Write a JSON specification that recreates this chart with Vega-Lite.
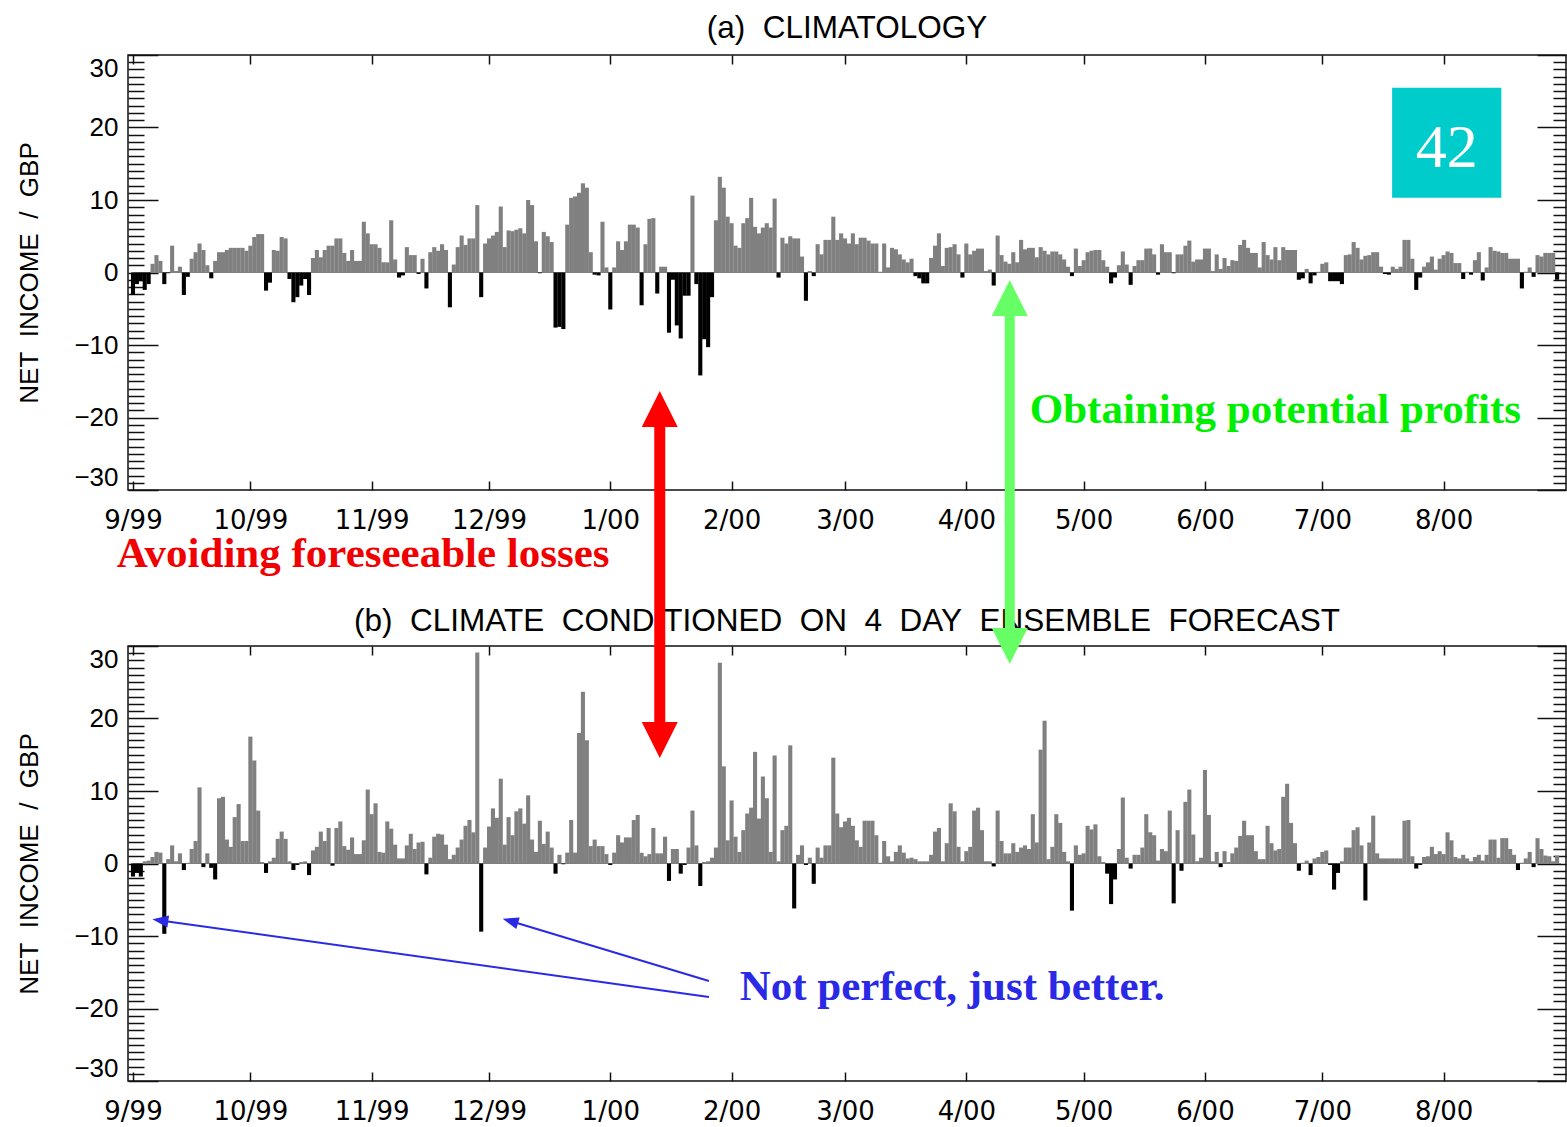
{
  "$schema": "https://vega.github.io/schema/vega-lite/v6.json",
  "background": "white",
  "padding": {"left": 15, "top": 11, "right": 2, "bottom": 2},
  "autosize": {"type": "pad"},
  "spacing": 156,
  "bounds": "flush",
  "config": {
    "view": {"stroke": "#111111", "strokeWidth": 1.5},
    "axis": {
      "grid": false, "domain": false, "tickColor": "#111111", "tickWidth": 1.5,
      "labelFont": "Liberation Sans", "labelFontSize": 26, "labelColor": "#000000",
      "titleFont": "Liberation Sans", "titleFontSize": 26, "titleFontWeight": "normal", "titleColor": "#000000",
      "labelOverlap": false
    }
  },
  "datasets": {
    "income": [
      {"t":"1999-09-01","a":-3.1,"b":-1.8},{"t":"1999-09-02","a":-1.6,"b":-1.3},{"t":"1999-09-03","a":-1.2,"b":-1.8},{"t":"1999-09-04","a":-2.4,"b":0.3},{"t":"1999-09-05","a":-1.6,"b":0.4},
      {"t":"1999-09-06","a":1.2,"b":0.9},{"t":"1999-09-07","a":2.4,"b":1.6},{"t":"1999-09-08","a":1.6,"b":1.5},{"t":"1999-09-09","a":-1.6,"b":-9.7},{"t":"1999-09-10","a":-0.1,"b":0.6},
      {"t":"1999-09-11","a":3.7,"b":2.5},{"t":"1999-09-12","a":0.2,"b":0.3},{"t":"1999-09-13","a":0.8,"b":1.4},{"t":"1999-09-14","a":-3.1,"b":-0.9},{"t":"1999-09-15","a":-0.6,"b":0.1},
      {"t":"1999-09-16","a":1.9,"b":2.0},{"t":"1999-09-17","a":2.8,"b":3.1},{"t":"1999-09-18","a":4.0,"b":10.5},{"t":"1999-09-19","a":3.1,"b":-0.5},{"t":"1999-09-20","a":1.0,"b":1.4},
      {"t":"1999-09-21","a":-0.8,"b":-0.6},{"t":"1999-09-22","a":1.6,"b":-2.2},{"t":"1999-09-23","a":2.8,"b":9.0},{"t":"1999-09-24","a":2.8,"b":9.2},{"t":"1999-09-25","a":3.1,"b":3.3},
      {"t":"1999-09-26","a":3.4,"b":2.3},{"t":"1999-09-27","a":3.4,"b":6.4},{"t":"1999-09-28","a":3.4,"b":8.2},{"t":"1999-09-29","a":3.4,"b":3.1},{"t":"1999-09-30","a":3.0,"b":3.1},
      {"t":"1999-10-01","a":3.7,"b":17.5},{"t":"1999-10-02","a":4.9,"b":14.2},{"t":"1999-10-03","a":5.3,"b":7.3},{"t":"1999-10-04","a":5.3,"b":0.2},{"t":"1999-10-05","a":-2.5,"b":-1.3},
      {"t":"1999-10-06","a":-1.4,"b":0.3},{"t":"1999-10-07","a":3.1,"b":0.8},{"t":"1999-10-08","a":3.0,"b":3.4},{"t":"1999-10-09","a":4.9,"b":4.4},{"t":"1999-10-10","a":4.7,"b":3.4},
      {"t":"1999-10-11","a":-0.9,"b":0.3},{"t":"1999-10-12","a":-4.1,"b":-0.9},{"t":"1999-10-13","a":-3.4,"b":-0.2},{"t":"1999-10-14","a":-1.8,"b":0.2},{"t":"1999-10-15","a":-0.9,"b":0.3},
      {"t":"1999-10-16","a":-3.1,"b":-1.6},{"t":"1999-10-17","a":2.0,"b":1.8},{"t":"1999-10-18","a":3.1,"b":2.3},{"t":"1999-10-19","a":2.1,"b":4.4},{"t":"1999-10-20","a":3.1,"b":3.1},
      {"t":"1999-10-21","a":3.7,"b":4.9},{"t":"1999-10-22","a":3.7,"b":-0.3},{"t":"1999-10-23","a":4.7,"b":4.9},{"t":"1999-10-24","a":4.7,"b":5.8},{"t":"1999-10-25","a":2.7,"b":2.4},
      {"t":"1999-10-26","a":1.6,"b":1.9},{"t":"1999-10-27","a":3.1,"b":3.6},{"t":"1999-10-28","a":1.6,"b":1.3},{"t":"1999-10-29","a":1.6,"b":1.3},{"t":"1999-10-30","a":7.0,"b":3.2},
      {"t":"1999-10-31","a":5.4,"b":10.2},
      {"t":"1999-11-01","a":3.9,"b":6.8},{"t":"1999-11-02","a":3.9,"b":8.3},{"t":"1999-11-03","a":3.4,"b":1.6},{"t":"1999-11-04","a":1.4,"b":1.5},{"t":"1999-11-05","a":1.4,"b":5.8},
      {"t":"1999-11-06","a":7.2,"b":4.8},{"t":"1999-11-07","a":1.8,"b":2.6},{"t":"1999-11-08","a":-0.7,"b":0.7},{"t":"1999-11-09","a":-0.4,"b":0.7},{"t":"1999-11-10","a":3.5,"b":2.5},
      {"t":"1999-11-11","a":2.4,"b":4.1},{"t":"1999-11-12","a":2.4,"b":2.0},{"t":"1999-11-13","a":-0.2,"b":2.9},{"t":"1999-11-14","a":1.9,"b":3.0},{"t":"1999-11-15","a":-2.2,"b":-1.5},
      {"t":"1999-11-16","a":2.8,"b":0.8},{"t":"1999-11-17","a":3.5,"b":3.7},{"t":"1999-11-18","a":3.0,"b":4.1},{"t":"1999-11-19","a":3.9,"b":4.0},{"t":"1999-11-20","a":3.1,"b":2.6},
      {"t":"1999-11-21","a":-4.8,"b":0.6},{"t":"1999-11-22","a":1.1,"b":1.2},{"t":"1999-11-23","a":3.5,"b":2.2},{"t":"1999-11-24","a":5.1,"b":3.3},{"t":"1999-11-25","a":3.8,"b":5.2},
      {"t":"1999-11-26","a":4.7,"b":6.0},{"t":"1999-11-27","a":4.7,"b":4.3},{"t":"1999-11-28","a":9.3,"b":29.1},{"t":"1999-11-29","a":-3.4,"b":-9.4},{"t":"1999-11-30","a":4.0,"b":2.2},
      {"t":"1999-12-01","a":4.7,"b":5.1},{"t":"1999-12-02","a":5.1,"b":7.6},{"t":"1999-12-03","a":5.6,"b":6.3},{"t":"1999-12-04","a":9.1,"b":11.7},{"t":"1999-12-05","a":3.5,"b":2.6},
      {"t":"1999-12-06","a":5.8,"b":6.4},{"t":"1999-12-07","a":5.7,"b":3.9},{"t":"1999-12-08","a":5.9,"b":7.2},{"t":"1999-12-09","a":6.1,"b":7.6},{"t":"1999-12-10","a":5.4,"b":5.5},
      {"t":"1999-12-11","a":10.0,"b":9.4},{"t":"1999-12-12","a":9.3,"b":3.3},{"t":"1999-12-13","a":4.3,"b":1.6},{"t":"1999-12-14","a":-0.1,"b":5.9},{"t":"1999-12-15","a":5.6,"b":2.7},
      {"t":"1999-12-16","a":5.0,"b":4.4},{"t":"1999-12-17","a":4.2,"b":2.2},{"t":"1999-12-18","a":-7.6,"b":-1.4},{"t":"1999-12-19","a":-7.5,"b":1.2},{"t":"1999-12-20","a":-7.8,"b":-0.1},
      {"t":"1999-12-21","a":6.6,"b":1.5},{"t":"1999-12-22","a":10.3,"b":6.0},{"t":"1999-12-23","a":10.5,"b":1.5},{"t":"1999-12-24","a":11.0,"b":18.0},{"t":"1999-12-25","a":12.3,"b":23.7},
      {"t":"1999-12-26","a":11.7,"b":17.0},{"t":"1999-12-27","a":2.8,"b":2.4},{"t":"1999-12-28","a":-0.3,"b":3.3},{"t":"1999-12-29","a":-0.4,"b":2.4},{"t":"1999-12-30","a":7.0,"b":2.4},
      {"t":"1999-12-31","a":0.7,"b":1.3},
      {"t":"2000-01-01","a":-5.1,"b":-0.2},{"t":"2000-01-02","a":0.7,"b":1.5},{"t":"2000-01-03","a":4.3,"b":3.9},{"t":"2000-01-04","a":3.1,"b":2.9},{"t":"2000-01-05","a":4.3,"b":3.6},
      {"t":"2000-01-06","a":6.6,"b":3.6},{"t":"2000-01-07","a":6.6,"b":6.0},{"t":"2000-01-08","a":6.2,"b":6.7},{"t":"2000-01-09","a":-4.5,"b":1.5},{"t":"2000-01-10","a":3.9,"b":1.0},
      {"t":"2000-01-11","a":7.4,"b":1.3},{"t":"2000-01-12","a":7.5,"b":4.9},{"t":"2000-01-13","a":-2.9,"b":1.4},{"t":"2000-01-14","a":0.8,"b":1.4},{"t":"2000-01-15","a":0.8,"b":3.7},
      {"t":"2000-01-16","a":-8.3,"b":-2.4},{"t":"2000-01-17","a":-1.0,"b":2.0},{"t":"2000-01-18","a":-7.3,"b":2.0},{"t":"2000-01-19","a":-9.1,"b":-1.4},{"t":"2000-01-20","a":-3.2,"b":-0.2},
      {"t":"2000-01-21","a":-3.2,"b":2.2},{"t":"2000-01-22","a":10.6,"b":7.3},{"t":"2000-01-23","a":-1.6,"b":2.5},{"t":"2000-01-24","a":-14.2,"b":-3.1},{"t":"2000-01-25","a":-9.2,"b":0.2},
      {"t":"2000-01-26","a":-10.3,"b":0.3},{"t":"2000-01-27","a":-3.4,"b":0.8},{"t":"2000-01-28","a":7.2,"b":2.2},{"t":"2000-01-29","a":13.2,"b":27.7},{"t":"2000-01-30","a":11.7,"b":13.4},
      {"t":"2000-01-31","a":7.7,"b":3.2},
      {"t":"2000-02-01","a":6.8,"b":8.7},{"t":"2000-02-02","a":3.7,"b":3.7},{"t":"2000-02-03","a":3.4,"b":1.6},{"t":"2000-02-04","a":6.8,"b":4.6},{"t":"2000-02-05","a":7.5,"b":6.9},
      {"t":"2000-02-06","a":10.3,"b":7.7},{"t":"2000-02-07","a":6.3,"b":15.4},{"t":"2000-02-08","a":5.4,"b":6.2},{"t":"2000-02-09","a":6.2,"b":12.0},{"t":"2000-02-10","a":6.8,"b":9.0},
      {"t":"2000-02-11","a":6.2,"b":1.6},{"t":"2000-02-12","a":10.2,"b":14.9},{"t":"2000-02-13","a":-0.7,"b":0.3},{"t":"2000-02-14","a":4.8,"b":4.6},{"t":"2000-02-15","a":4.0,"b":5.2},
      {"t":"2000-02-16","a":5.0,"b":16.3},{"t":"2000-02-17","a":4.7,"b":-6.2},{"t":"2000-02-18","a":4.7,"b":1.2},{"t":"2000-02-19","a":2.2,"b":2.5},{"t":"2000-02-20","a":-3.9,"b":-0.2},
      {"t":"2000-02-21","a":0.2,"b":0.8},{"t":"2000-02-22","a":-0.5,"b":-2.8},{"t":"2000-02-23","a":3.9,"b":2.2},{"t":"2000-02-24","a":2.5,"b":0.8},{"t":"2000-02-25","a":4.5,"b":2.5},
      {"t":"2000-02-26","a":4.5,"b":2.5},{"t":"2000-02-27","a":7.7,"b":14.6},{"t":"2000-02-28","a":4.5,"b":6.9},{"t":"2000-02-29","a":5.4,"b":5.0},
      {"t":"2000-03-01","a":4.7,"b":5.8},{"t":"2000-03-02","a":4.0,"b":6.3},{"t":"2000-03-03","a":5.4,"b":5.2},{"t":"2000-03-04","a":3.9,"b":3.2},{"t":"2000-03-05","a":4.8,"b":2.3},
      {"t":"2000-03-06","a":4.8,"b":5.9},{"t":"2000-03-07","a":4.4,"b":5.9},{"t":"2000-03-08","a":4.0,"b":5.9},{"t":"2000-03-09","a":4.0,"b":3.9},{"t":"2000-03-10","a":0.1,"b":0.1},
      {"t":"2000-03-11","a":4.0,"b":3.1},{"t":"2000-03-12","a":0.7,"b":1.0},{"t":"2000-03-13","a":3.4,"b":0.3},{"t":"2000-03-14","a":3.2,"b":1.6},{"t":"2000-03-15","a":2.5,"b":2.5},
      {"t":"2000-03-16","a":1.8,"b":1.5},{"t":"2000-03-17","a":1.4,"b":0.7},{"t":"2000-03-18","a":1.9,"b":0.8},{"t":"2000-03-19","a":-0.5,"b":0.6},{"t":"2000-03-20","a":-0.8,"b":0.3},
      {"t":"2000-03-21","a":-1.5,"b":0.3},{"t":"2000-03-22","a":-1.5,"b":0.3},{"t":"2000-03-23","a":2.0,"b":1.2},{"t":"2000-03-24","a":3.7,"b":4.4},{"t":"2000-03-25","a":5.4,"b":4.9},
      {"t":"2000-03-26","a":0.9,"b":0.3},{"t":"2000-03-27","a":3.4,"b":2.8},{"t":"2000-03-28","a":3.5,"b":8.3},{"t":"2000-03-29","a":3.9,"b":7.2},{"t":"2000-03-30","a":2.5,"b":2.3},
      {"t":"2000-03-31","a":-0.7,"b":0.3},
      {"t":"2000-04-01","a":4.0,"b":1.7},{"t":"2000-04-02","a":2.5,"b":2.3},{"t":"2000-04-03","a":3.0,"b":7.3},{"t":"2000-04-04","a":3.3,"b":7.7},{"t":"2000-04-05","a":3.3,"b":4.6},
      {"t":"2000-04-06","a":0.2,"b":0.3},{"t":"2000-04-07","a":0.4,"b":0.3},{"t":"2000-04-08","a":-1.8,"b":-0.4},{"t":"2000-04-09","a":5.1,"b":7.3},{"t":"2000-04-10","a":2.4,"b":3.1},
      {"t":"2000-04-11","a":1.5,"b":1.4},{"t":"2000-04-12","a":1.2,"b":1.4},{"t":"2000-04-13","a":2.8,"b":2.8},{"t":"2000-04-14","a":1.4,"b":1.6},{"t":"2000-04-15","a":4.5,"b":2.2},
      {"t":"2000-04-16","a":3.2,"b":2.5},{"t":"2000-04-17","a":3.4,"b":2.0},{"t":"2000-04-18","a":3.4,"b":6.8},{"t":"2000-04-19","a":2.1,"b":2.9},{"t":"2000-04-20","a":3.5,"b":15.7},
      {"t":"2000-04-21","a":3.0,"b":19.7},{"t":"2000-04-22","a":2.5,"b":0.6},{"t":"2000-04-23","a":2.9,"b":2.3},{"t":"2000-04-24","a":2.9,"b":6.8},{"t":"2000-04-25","a":2.5,"b":5.6},
      {"t":"2000-04-26","a":1.8,"b":1.6},{"t":"2000-04-27","a":0.8,"b":0.3},{"t":"2000-04-28","a":-0.5,"b":-6.5},{"t":"2000-04-29","a":3.3,"b":2.5},{"t":"2000-04-30","a":0.9,"b":1.2},
      {"t":"2000-05-01","a":1.7,"b":1.4},{"t":"2000-05-02","a":2.8,"b":5.2},{"t":"2000-05-03","a":3.0,"b":4.7},{"t":"2000-05-04","a":3.1,"b":5.4},{"t":"2000-05-05","a":3.1,"b":1.0},
      {"t":"2000-05-06","a":1.7,"b":0.2},{"t":"2000-05-07","a":0.8,"b":-1.4},{"t":"2000-05-08","a":-1.5,"b":-5.6},{"t":"2000-05-09","a":-0.7,"b":-2.2},{"t":"2000-05-10","a":1.0,"b":2.0},
      {"t":"2000-05-11","a":2.9,"b":9.1},{"t":"2000-05-12","a":1.1,"b":0.8},{"t":"2000-05-13","a":-1.7,"b":-0.7},{"t":"2000-05-14","a":0.9,"b":1.2},{"t":"2000-05-15","a":1.7,"b":1.2},
      {"t":"2000-05-16","a":1.7,"b":2.2},{"t":"2000-05-17","a":3.3,"b":6.8},{"t":"2000-05-18","a":3.3,"b":4.3},{"t":"2000-05-19","a":2.5,"b":3.9},{"t":"2000-05-20","a":-0.3,"b":0.4},
      {"t":"2000-05-21","a":3.9,"b":2.0},{"t":"2000-05-22","a":2.8,"b":1.7},{"t":"2000-05-23","a":2.8,"b":7.3},{"t":"2000-05-24","a":-0.1,"b":-5.5},{"t":"2000-05-25","a":2.5,"b":4.6},
      {"t":"2000-05-26","a":2.5,"b":-1.0},{"t":"2000-05-27","a":3.7,"b":8.5},{"t":"2000-05-28","a":4.4,"b":10.2},{"t":"2000-05-29","a":1.5,"b":4.0},{"t":"2000-05-30","a":1.8,"b":0.3},
      {"t":"2000-05-31","a":1.8,"b":0.8},
      {"t":"2000-06-01","a":3.3,"b":12.9},{"t":"2000-06-02","a":3.3,"b":6.7},{"t":"2000-06-03","a":0.2,"b":0.3},{"t":"2000-06-04","a":2.5,"b":1.6},{"t":"2000-06-05","a":0.5,"b":-0.5},
      {"t":"2000-06-06","a":2.0,"b":1.7},{"t":"2000-06-07","a":0.9,"b":0.2},{"t":"2000-06-08","a":1.7,"b":1.4},{"t":"2000-06-09","a":1.6,"b":2.2},{"t":"2000-06-10","a":3.8,"b":3.8},
      {"t":"2000-06-11","a":4.5,"b":5.9},{"t":"2000-06-12","a":3.4,"b":3.9},{"t":"2000-06-13","a":2.7,"b":3.9},{"t":"2000-06-14","a":2.7,"b":1.7},{"t":"2000-06-15","a":0.7,"b":0.6},
      {"t":"2000-06-16","a":4.2,"b":0.6},{"t":"2000-06-17","a":2.4,"b":5.2},{"t":"2000-06-18","a":1.8,"b":2.8},{"t":"2000-06-19","a":3.5,"b":1.8},{"t":"2000-06-20","a":1.7,"b":2.0},
      {"t":"2000-06-21","a":3.5,"b":9.2},{"t":"2000-06-22","a":3.1,"b":11.0},{"t":"2000-06-23","a":3.1,"b":5.6},{"t":"2000-06-24","a":3.1,"b":2.8},{"t":"2000-06-25","a":-1.0,"b":-1.0},
      {"t":"2000-06-26","a":-0.8,"b":0.1},{"t":"2000-06-27","a":0.5,"b":0.4},{"t":"2000-06-28","a":-1.5,"b":-1.6},{"t":"2000-06-29","a":-0.4,"b":0.7},{"t":"2000-06-30","a":0.1,"b":0.9},
      {"t":"2000-07-01","a":1.2,"b":1.6},{"t":"2000-07-02","a":1.4,"b":1.8},{"t":"2000-07-03","a":-1.2,"b":-0.2},{"t":"2000-07-04","a":-1.2,"b":-3.6},{"t":"2000-07-05","a":-1.2,"b":-1.3},
      {"t":"2000-07-06","a":-1.6,"b":0.3},{"t":"2000-07-07","a":2.4,"b":2.2},{"t":"2000-07-08","a":2.5,"b":2.2},{"t":"2000-07-09","a":4.2,"b":4.6},{"t":"2000-07-10","a":3.4,"b":5.0},
      {"t":"2000-07-11","a":1.8,"b":2.5},{"t":"2000-07-12","a":2.3,"b":-5.1},{"t":"2000-07-13","a":2.4,"b":2.9},{"t":"2000-07-14","a":2.8,"b":6.6},{"t":"2000-07-15","a":2.8,"b":1.4},
      {"t":"2000-07-16","a":0.8,"b":0.7},{"t":"2000-07-17","a":-0.2,"b":0.7},{"t":"2000-07-18","a":-0.3,"b":0.7},{"t":"2000-07-19","a":0.8,"b":0.7},{"t":"2000-07-20","a":0.5,"b":0.7},
      {"t":"2000-07-21","a":0.8,"b":0.7},{"t":"2000-07-22","a":4.5,"b":5.9},{"t":"2000-07-23","a":4.5,"b":6.0},{"t":"2000-07-24","a":1.9,"b":1.0},{"t":"2000-07-25","a":-2.4,"b":-0.7},
      {"t":"2000-07-26","a":-0.7,"b":-0.2},{"t":"2000-07-27","a":0.8,"b":0.9},{"t":"2000-07-28","a":1.4,"b":1.0},{"t":"2000-07-29","a":2.2,"b":2.3},{"t":"2000-07-30","a":0.4,"b":1.3},
      {"t":"2000-07-31","a":1.9,"b":1.7},
      {"t":"2000-08-01","a":2.4,"b":1.3},{"t":"2000-08-02","a":2.9,"b":4.3},{"t":"2000-08-03","a":2.7,"b":3.2},{"t":"2000-08-04","a":1.3,"b":0.9},{"t":"2000-08-05","a":1.3,"b":0.7},
      {"t":"2000-08-06","a":-0.9,"b":1.2},{"t":"2000-08-07","a":0.1,"b":0.7},{"t":"2000-08-08","a":-0.3,"b":0.3},{"t":"2000-08-09","a":1.7,"b":0.9},{"t":"2000-08-10","a":2.8,"b":1.2},
      {"t":"2000-08-11","a":-1.1,"b":0.4},{"t":"2000-08-12","a":0.7,"b":1.2},{"t":"2000-08-13","a":3.5,"b":3.3},{"t":"2000-08-14","a":3.0,"b":3.3},{"t":"2000-08-15","a":2.9,"b":0.8},
      {"t":"2000-08-16","a":2.7,"b":3.5},{"t":"2000-08-17","a":2.7,"b":3.5},{"t":"2000-08-18","a":1.9,"b":2.0},{"t":"2000-08-19","a":1.9,"b":1.2},{"t":"2000-08-20","a":1.9,"b":-0.9},
      {"t":"2000-08-21","a":-2.2,"b":0.1},{"t":"2000-08-22","a":0.1,"b":0.7},{"t":"2000-08-23","a":0.7,"b":1.6},{"t":"2000-08-24","a":-0.6,"b":-0.5},{"t":"2000-08-25","a":2.4,"b":3.5},
      {"t":"2000-08-26","a":2.2,"b":2.0},{"t":"2000-08-27","a":2.7,"b":1.1},{"t":"2000-08-28","a":2.7,"b":1.0},{"t":"2000-08-29","a":2.7,"b":0.3},{"t":"2000-08-30","a":-1.0,"b":1.1}
    ]
  },
  "vconcat": [
    {
      "width": 1438,
      "height": 435,
      "resolve": {"axis": {"x": "independent", "y": "independent"}},
      "layer": [
        {
          "data": {"values": [{}]},
          "mark": {"type": "rule", "color": "#808080", "strokeWidth": 1.2},
          "encoding": {
            "x": {"datum": {"year": 1999, "month": 9, "date": 1, "utc": true}, "type": "temporal",
                  "scale": {"type": "utc", "nice": false, "domain": [{"year": 1999, "month": 9, "date": 1, "utc": true}, {"year": 2000, "month": 8, "date": 31, "utc": true}]},
                  "axis": {"orient": "top", "labels": false, "title": null, "tickSize": -9,
                           "values": [{"year":1999,"month":9,"date":1,"utc":true},{"year":1999,"month":10,"date":1,"utc":true},{"year":1999,"month":11,"date":1,"utc":true},{"year":1999,"month":12,"date":1,"utc":true},{"year":2000,"month":1,"date":1,"utc":true},{"year":2000,"month":2,"date":1,"utc":true},{"year":2000,"month":3,"date":1,"utc":true},{"year":2000,"month":4,"date":1,"utc":true},{"year":2000,"month":5,"date":1,"utc":true},{"year":2000,"month":6,"date":1,"utc":true},{"year":2000,"month":7,"date":1,"utc":true},{"year":2000,"month":8,"date":1,"utc":true}]}},
            "x2": {"datum": {"year": 2000, "month": 8, "date": 31, "utc": true}},
            "y": {"datum": 0, "type": "quantitative", "scale": {"domain": [-30, 30], "nice": false, "zero": false},
                  "axis": {"orient": "right", "labels": false, "title": null,
                           "tickSize": {"condition": {"test": "datum.value % 10 === 0", "value": -29}, "value": -13},
                           "values": [-30,-29,-28,-27,-26,-25,-24,-23,-22,-21,-20,-19,-18,-17,-16,-15,-14,-13,-12,-11,-10,-9,-8,-7,-6,-5,-4,-3,-2,-1,0,1,2,3,4,5,6,7,8,9,10,11,12,13,14,15,16,17,18,19,20,21,22,23,24,25,26,27,28,29,30]}}
          }
        },
        {
          "data": {"name": "income"},
          "mark": {"type": "bar", "width": 4.1},
          "encoding": {
            "x": {"field": "t", "type": "temporal",
                  "scale": {"type": "utc", "nice": false, "domain": [{"year": 1999, "month": 9, "date": 1, "utc": true}, {"year": 2000, "month": 8, "date": 31, "utc": true}]},
                  "axis": {"orient": "bottom", "title": null, "tickSize": -9, "labelPadding": 26, "labelFlush": false, "labelFont": "DejaVu Sans", "labelFontSize": 26,
                           "labelExpr": "utcFormat(datum.value, '%-m/%y')",
                           "values": [{"year":1999,"month":9,"date":1,"utc":true},{"year":1999,"month":10,"date":1,"utc":true},{"year":1999,"month":11,"date":1,"utc":true},{"year":1999,"month":12,"date":1,"utc":true},{"year":2000,"month":1,"date":1,"utc":true},{"year":2000,"month":2,"date":1,"utc":true},{"year":2000,"month":3,"date":1,"utc":true},{"year":2000,"month":4,"date":1,"utc":true},{"year":2000,"month":5,"date":1,"utc":true},{"year":2000,"month":6,"date":1,"utc":true},{"year":2000,"month":7,"date":1,"utc":true},{"year":2000,"month":8,"date":1,"utc":true}]}},
            "y": {"field": "a", "type": "quantitative", "scale": {"domain": [-30, 30], "nice": false, "zero": false},
                  "axis": {"orient": "left", "title": "NET\u00a0\u00a0INCOME\u00a0\u00a0/\u00a0\u00a0GBP", "titleX": -99, "titleY": 217.5, "titleAngle": 270, "titleAlign": "center", "titleBaseline": "middle",
                           "tickSize": {"condition": {"test": "datum.value % 10 === 0", "value": -30}, "value": -16},
                           "labelExpr": "datum.value % 10 === 0 ? datum.label : ''", "labelPadding": 40, "labelFlush": true,
                           "values": [-30,-29,-28,-27,-26,-25,-24,-23,-22,-21,-20,-19,-18,-17,-16,-15,-14,-13,-12,-11,-10,-9,-8,-7,-6,-5,-4,-3,-2,-1,0,1,2,3,4,5,6,7,8,9,10,11,12,13,14,15,16,17,18,19,20,21,22,23,24,25,26,27,28,29,30]}},
            "color": {"condition": {"test": "datum.a < 0", "value": "#000000"}, "value": "#808080"}
          }
        },
        {
          "data": {"values": [{"label": "(a)\u00a0\u00a0CLIMATOLOGY"}]},
          "mark": {"type": "text", "font": "Liberation Sans", "fontSize": 31.5, "align": "center", "baseline": "alphabetic", "color": "#000000"},
          "encoding": {
            "x": {"datum": {"year": 2000, "month": 3, "date": 1, "hours": 12, "utc": true}, "type": "temporal", "axis": null,
                  "scale": {"type": "utc", "nice": false, "domain": [{"year": 1999, "month": 9, "date": 1, "utc": true}, {"year": 2000, "month": 8, "date": 31, "utc": true}]}},
            "y": {"datum": 32.41, "type": "quantitative", "axis": null, "scale": {"domain": [-30, 30], "nice": false, "zero": false}},
            "text": {"field": "label"}
          }
        },
        {
          "data": {"values": [{}]},
          "mark": {"type": "rect", "color": "#00cccc"},
          "encoding": {
            "x": {"datum": {"year": 2000, "month": 7, "date": 18, "hours": 20, "utc": true}, "type": "temporal", "axis": null,
                  "scale": {"type": "utc", "nice": false, "domain": [{"year": 1999, "month": 9, "date": 1, "utc": true}, {"year": 2000, "month": 8, "date": 31, "utc": true}]}},
            "x2": {"datum": {"year": 2000, "month": 8, "date": 15, "hours": 18, "utc": true}},
            "y": {"datum": 25.48, "type": "quantitative", "axis": null, "scale": {"domain": [-30, 30], "nice": false, "zero": false}},
            "y2": {"datum": 10.3}
          }
        },
        {
          "data": {"values": [{"label": "42"}]},
          "mark": {"type": "text", "font": "Liberation Serif", "fontSize": 62, "align": "center", "baseline": "alphabetic", "color": "#ffffff"},
          "encoding": {
            "x": {"datum": {"year": 2000, "month": 8, "date": 1, "hours": 19, "utc": true}, "type": "temporal", "axis": null,
                  "scale": {"type": "utc", "nice": false, "domain": [{"year": 1999, "month": 9, "date": 1, "utc": true}, {"year": 2000, "month": 8, "date": 31, "utc": true}]}},
            "y": {"datum": 14.58, "type": "quantitative", "axis": null, "scale": {"domain": [-30, 30], "nice": false, "zero": false}},
            "text": {"field": "label"}
          }
        },
        {
          "data": {"values": [{"label": "Obtaining potential profits"}]},
          "mark": {"type": "text", "font": "Liberation Serif", "fontSize": 43, "fontWeight": "bold", "align": "left", "baseline": "alphabetic", "color": "#00ee00"},
          "encoding": {
            "x": {"datum": {"year": 2000, "month": 4, "date": 17, "hours": 4, "minutes": 48, "utc": true}, "type": "temporal", "axis": null,
                  "scale": {"type": "utc", "nice": false, "domain": [{"year": 1999, "month": 9, "date": 1, "utc": true}, {"year": 2000, "month": 8, "date": 31, "utc": true}]}},
            "y": {"datum": -20.69, "type": "quantitative", "axis": null, "scale": {"domain": [-30, 30], "nice": false, "zero": false}},
            "text": {"field": "label"}
          }
        },
        {
          "data": {"values": [{"label": "Avoiding foreseeable losses"}]},
          "mark": {"type": "text", "font": "Liberation Serif", "fontSize": 43, "fontWeight": "bold", "align": "left", "baseline": "alphabetic", "color": "#f00000"},
          "encoding": {
            "x": {"datum": {"year": 1999, "month": 8, "date": 27, "hours": 20, "utc": true}, "type": "temporal", "axis": null,
                  "scale": {"type": "utc", "nice": false, "domain": [{"year": 1999, "month": 9, "date": 1, "utc": true}, {"year": 2000, "month": 8, "date": 31, "utc": true}]}},
            "y": {"datum": -40.6, "type": "quantitative", "axis": null, "scale": {"domain": [-30, 30], "nice": false, "zero": false}},
            "text": {"field": "label"}
          }
        }
      ]
    },
    {
      "width": 1438,
      "height": 435,
      "resolve": {"axis": {"x": "independent", "y": "independent"}},
      "layer": [
        {
          "data": {"values": [{}]},
          "mark": {"type": "rule", "color": "#808080", "strokeWidth": 1.2},
          "encoding": {
            "x": {"datum": {"year": 1999, "month": 9, "date": 1, "utc": true}, "type": "temporal",
                  "scale": {"type": "utc", "nice": false, "domain": [{"year": 1999, "month": 9, "date": 1, "utc": true}, {"year": 2000, "month": 8, "date": 31, "utc": true}]},
                  "axis": {"orient": "top", "labels": false, "title": null, "tickSize": -9,
                           "values": [{"year":1999,"month":9,"date":1,"utc":true},{"year":1999,"month":10,"date":1,"utc":true},{"year":1999,"month":11,"date":1,"utc":true},{"year":1999,"month":12,"date":1,"utc":true},{"year":2000,"month":1,"date":1,"utc":true},{"year":2000,"month":2,"date":1,"utc":true},{"year":2000,"month":3,"date":1,"utc":true},{"year":2000,"month":4,"date":1,"utc":true},{"year":2000,"month":5,"date":1,"utc":true},{"year":2000,"month":6,"date":1,"utc":true},{"year":2000,"month":7,"date":1,"utc":true},{"year":2000,"month":8,"date":1,"utc":true}]}},
            "x2": {"datum": {"year": 2000, "month": 8, "date": 31, "utc": true}},
            "y": {"datum": 0, "type": "quantitative", "scale": {"domain": [-30, 30], "nice": false, "zero": false},
                  "axis": {"orient": "right", "labels": false, "title": null,
                           "tickSize": {"condition": {"test": "datum.value % 10 === 0", "value": -29}, "value": -13},
                           "values": [-30,-29,-28,-27,-26,-25,-24,-23,-22,-21,-20,-19,-18,-17,-16,-15,-14,-13,-12,-11,-10,-9,-8,-7,-6,-5,-4,-3,-2,-1,0,1,2,3,4,5,6,7,8,9,10,11,12,13,14,15,16,17,18,19,20,21,22,23,24,25,26,27,28,29,30]}}
          }
        },
        {
          "data": {"name": "income"},
          "mark": {"type": "bar", "width": 4.1},
          "encoding": {
            "x": {"field": "t", "type": "temporal",
                  "scale": {"type": "utc", "nice": false, "domain": [{"year": 1999, "month": 9, "date": 1, "utc": true}, {"year": 2000, "month": 8, "date": 31, "utc": true}]},
                  "axis": {"orient": "bottom", "title": null, "tickSize": -9, "labelPadding": 26, "labelFlush": false, "labelFont": "DejaVu Sans", "labelFontSize": 26,
                           "labelExpr": "utcFormat(datum.value, '%-m/%y')",
                           "values": [{"year":1999,"month":9,"date":1,"utc":true},{"year":1999,"month":10,"date":1,"utc":true},{"year":1999,"month":11,"date":1,"utc":true},{"year":1999,"month":12,"date":1,"utc":true},{"year":2000,"month":1,"date":1,"utc":true},{"year":2000,"month":2,"date":1,"utc":true},{"year":2000,"month":3,"date":1,"utc":true},{"year":2000,"month":4,"date":1,"utc":true},{"year":2000,"month":5,"date":1,"utc":true},{"year":2000,"month":6,"date":1,"utc":true},{"year":2000,"month":7,"date":1,"utc":true},{"year":2000,"month":8,"date":1,"utc":true}]}},
            "y": {"field": "b", "type": "quantitative", "scale": {"domain": [-30, 30], "nice": false, "zero": false},
                  "axis": {"orient": "left", "title": "NET\u00a0\u00a0INCOME\u00a0\u00a0/\u00a0\u00a0GBP", "titleX": -99, "titleY": 217.5, "titleAngle": 270, "titleAlign": "center", "titleBaseline": "middle",
                           "tickSize": {"condition": {"test": "datum.value % 10 === 0", "value": -30}, "value": -16},
                           "labelExpr": "datum.value % 10 === 0 ? datum.label : ''", "labelPadding": 40, "labelFlush": true,
                           "values": [-30,-29,-28,-27,-26,-25,-24,-23,-22,-21,-20,-19,-18,-17,-16,-15,-14,-13,-12,-11,-10,-9,-8,-7,-6,-5,-4,-3,-2,-1,0,1,2,3,4,5,6,7,8,9,10,11,12,13,14,15,16,17,18,19,20,21,22,23,24,25,26,27,28,29,30]}},
            "color": {"condition": {"test": "datum.b < 0", "value": "#000000"}, "value": "#808080"}
          }
        },
        {
          "data": {"values": [{"label": "(b)\u00a0\u00a0CLIMATE\u00a0\u00a0CONDITIONED\u00a0\u00a0ON\u00a0\u00a04\u00a0\u00a0DAY\u00a0\u00a0ENSEMBLE\u00a0\u00a0FORECAST"}]},
          "mark": {"type": "text", "font": "Liberation Sans", "fontSize": 31.5, "align": "center", "baseline": "alphabetic", "color": "#000000"},
          "encoding": {
            "x": {"datum": {"year": 2000, "month": 3, "date": 1, "hours": 12, "utc": true}, "type": "temporal", "axis": null,
                  "scale": {"type": "utc", "nice": false, "domain": [{"year": 1999, "month": 9, "date": 1, "utc": true}, {"year": 2000, "month": 8, "date": 31, "utc": true}]}},
            "y": {"datum": 32.04, "type": "quantitative", "axis": null, "scale": {"domain": [-30, 30], "nice": false, "zero": false}},
            "text": {"field": "label"}
          }
        },
        {
          "data": {"values": [{"label": "Not perfect, just better."}]},
          "mark": {"type": "text", "font": "Liberation Serif", "fontSize": 43, "fontWeight": "bold", "align": "left", "baseline": "alphabetic", "color": "#2a2ae6"},
          "encoding": {
            "x": {"datum": {"year": 2000, "month": 2, "date": 3, "hours": 2, "utc": true}, "type": "temporal", "axis": null,
                  "scale": {"type": "utc", "nice": false, "domain": [{"year": 1999, "month": 9, "date": 1, "utc": true}, {"year": 2000, "month": 8, "date": 31, "utc": true}]}},
            "y": {"datum": -18.83, "type": "quantitative", "axis": null, "scale": {"domain": [-30, 30], "nice": false, "zero": false}},
            "text": {"field": "label"}
          }
        },
        {
          "data": {"values": [{}]},
          "mark": {"type": "rule", "color": "#2a2ae6", "strokeWidth": 2},
          "encoding": {
            "x": {"datum": {"year": 2000, "month": 1, "date": 26, "hours": 5, "utc": true}, "type": "temporal", "axis": null,
                  "scale": {"type": "utc", "nice": false, "domain": [{"year": 1999, "month": 9, "date": 1, "utc": true}, {"year": 2000, "month": 8, "date": 31, "utc": true}]}},
            "x2": {"datum": {"year": 1999, "month": 9, "date": 7, "hours": 23, "minutes": 31, "utc": true}},
            "y": {"datum": -18.41, "type": "quantitative", "axis": null, "scale": {"domain": [-30, 30], "nice": false, "zero": false}},
            "y2": {"datum": -7.85}
          }
        },
        {
          "data": {"values": [{}]},
          "mark": {"type": "rule", "color": "#2a2ae6", "strokeWidth": 2},
          "encoding": {
            "x": {"datum": {"year": 2000, "month": 1, "date": 26, "hours": 5, "utc": true}, "type": "temporal", "axis": null,
                  "scale": {"type": "utc", "nice": false, "domain": [{"year": 1999, "month": 9, "date": 1, "utc": true}, {"year": 2000, "month": 8, "date": 31, "utc": true}]}},
            "x2": {"datum": {"year": 1999, "month": 12, "date": 6, "hours": 10, "minutes": 48, "utc": true}},
            "y": {"datum": -16.21, "type": "quantitative", "axis": null, "scale": {"domain": [-30, 30], "nice": false, "zero": false}},
            "y2": {"datum": -7.93}
          }
        },
        {
          "data": {"values": [{}]},
          "mark": {"type": "point", "shape": "M1,0L-1,-0.75L-1,0.75Z", "size": 256, "angle": 187.9, "filled": true, "opacity": 1, "color": "#2a2ae6", "strokeWidth": 0},
          "encoding": {
            "x": {"datum": {"year": 1999, "month": 9, "date": 7, "hours": 23, "minutes": 31, "utc": true}, "type": "temporal", "axis": null,
                  "scale": {"type": "utc", "nice": false, "domain": [{"year": 1999, "month": 9, "date": 1, "utc": true}, {"year": 2000, "month": 8, "date": 31, "utc": true}]}},
            "y": {"datum": -7.85, "type": "quantitative", "axis": null, "scale": {"domain": [-30, 30], "nice": false, "zero": false}}
          }
        },
        {
          "data": {"values": [{}]},
          "mark": {"type": "point", "shape": "M1,0L-1,-0.75L-1,0.75Z", "size": 256, "angle": 196.7, "filled": true, "opacity": 1, "color": "#2a2ae6", "strokeWidth": 0},
          "encoding": {
            "x": {"datum": {"year": 1999, "month": 12, "date": 6, "hours": 10, "minutes": 48, "utc": true}, "type": "temporal", "axis": null,
                  "scale": {"type": "utc", "nice": false, "domain": [{"year": 1999, "month": 9, "date": 1, "utc": true}, {"year": 2000, "month": 8, "date": 31, "utc": true}]}},
            "y": {"datum": -7.93, "type": "quantitative", "axis": null, "scale": {"domain": [-30, 30], "nice": false, "zero": false}}
          }
        },
        {
          "data": {"values": [{}]},
          "mark": {"type": "rule", "color": "#ff0000", "strokeWidth": 11},
          "encoding": {
            "x": {"datum": {"year": 2000, "month": 1, "date": 13, "hours": 15, "minutes": 22, "utc": true}, "type": "temporal", "axis": null,
                  "scale": {"type": "utc", "nice": false, "domain": [{"year": 1999, "month": 9, "date": 1, "utc": true}, {"year": 2000, "month": 8, "date": 31, "utc": true}]}},
            "y": {"datum": 62.69, "type": "quantitative", "axis": null, "scale": {"domain": [-30, 30], "nice": false, "zero": false}},
            "y2": {"datum": 17.03}
          }
        },
        {
          "data": {"values": [{}]},
          "mark": {"type": "point", "shape": "M0,-1L1,1L-1,1Z", "size": 1296, "filled": true, "opacity": 1, "color": "#ff0000", "strokeWidth": 0},
          "encoding": {
            "x": {"datum": {"year": 2000, "month": 1, "date": 13, "hours": 15, "minutes": 22, "utc": true}, "type": "temporal", "axis": null,
                  "scale": {"type": "utc", "nice": false, "domain": [{"year": 1999, "month": 9, "date": 1, "utc": true}, {"year": 2000, "month": 8, "date": 31, "utc": true}]}},
            "y": {"datum": 62.69, "type": "quantitative", "axis": null, "scale": {"domain": [-30, 30], "nice": false, "zero": false}}
          }
        },
        {
          "data": {"values": [{}]},
          "mark": {"type": "point", "shape": "M0,1L1,-1L-1,-1Z", "size": 1296, "filled": true, "opacity": 1, "color": "#ff0000", "strokeWidth": 0},
          "encoding": {
            "x": {"datum": {"year": 2000, "month": 1, "date": 13, "hours": 15, "minutes": 22, "utc": true}, "type": "temporal", "axis": null,
                  "scale": {"type": "utc", "nice": false, "domain": [{"year": 1999, "month": 9, "date": 1, "utc": true}, {"year": 2000, "month": 8, "date": 31, "utc": true}]}},
            "y": {"datum": 17.03, "type": "quantitative", "axis": null, "scale": {"domain": [-30, 30], "nice": false, "zero": false}}
          }
        },
        {
          "data": {"values": [{}]},
          "mark": {"type": "rule", "color": "#66ff66", "strokeWidth": 10},
          "encoding": {
            "x": {"datum": {"year": 2000, "month": 4, "date": 12, "hours": 2, "minutes": 24, "utc": true}, "type": "temporal", "axis": null,
                  "scale": {"type": "utc", "nice": false, "domain": [{"year": 1999, "month": 9, "date": 1, "utc": true}, {"year": 2000, "month": 8, "date": 31, "utc": true}]}},
            "y": {"datum": 78.0, "type": "quantitative", "axis": null, "scale": {"domain": [-30, 30], "nice": false, "zero": false}},
            "y2": {"datum": 30.0}
          }
        },
        {
          "data": {"values": [{}]},
          "mark": {"type": "point", "shape": "M0,-1L1,1L-1,1Z", "size": 1296, "filled": true, "opacity": 1, "color": "#66ff66", "strokeWidth": 0},
          "encoding": {
            "x": {"datum": {"year": 2000, "month": 4, "date": 12, "hours": 2, "minutes": 24, "utc": true}, "type": "temporal", "axis": null,
                  "scale": {"type": "utc", "nice": false, "domain": [{"year": 1999, "month": 9, "date": 1, "utc": true}, {"year": 2000, "month": 8, "date": 31, "utc": true}]}},
            "y": {"datum": 78.0, "type": "quantitative", "axis": null, "scale": {"domain": [-30, 30], "nice": false, "zero": false}}
          }
        },
        {
          "data": {"values": [{}]},
          "mark": {"type": "point", "shape": "M0,1L1,-1L-1,-1Z", "size": 1296, "filled": true, "opacity": 1, "color": "#66ff66", "strokeWidth": 0},
          "encoding": {
            "x": {"datum": {"year": 2000, "month": 4, "date": 12, "hours": 2, "minutes": 24, "utc": true}, "type": "temporal", "axis": null,
                  "scale": {"type": "utc", "nice": false, "domain": [{"year": 1999, "month": 9, "date": 1, "utc": true}, {"year": 2000, "month": 8, "date": 31, "utc": true}]}},
            "y": {"datum": 30.0, "type": "quantitative", "axis": null, "scale": {"domain": [-30, 30], "nice": false, "zero": false}}
          }
        }
      ]
    }
  ]
}
